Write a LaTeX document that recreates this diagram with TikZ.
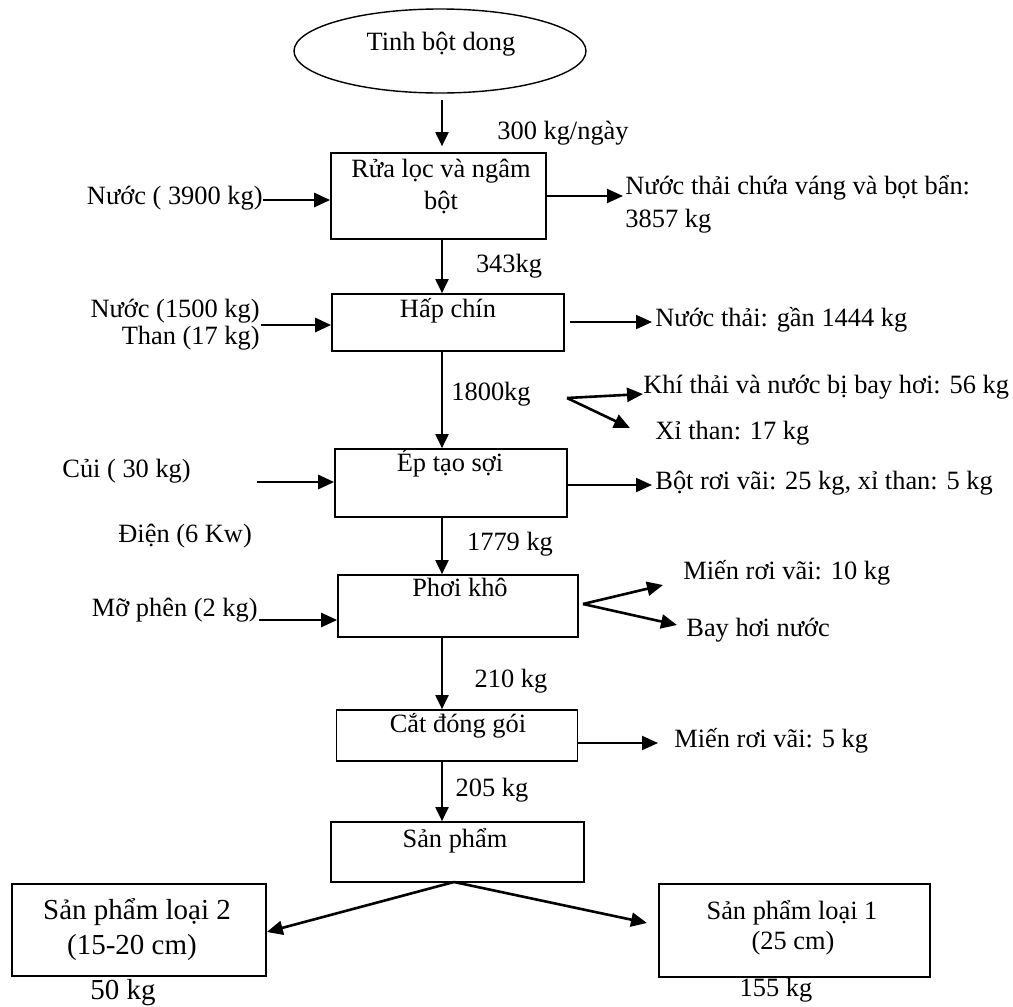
\documentclass[tikz,border=0pt]{standalone}
\usepackage{fontspec}
\setmainfont{Liberation Serif}
\usetikzlibrary{arrows.meta,shapes.geometric,calc}
\begin{document}
\begin{tikzpicture}[x=0.5pt,y=-0.5pt,
  txt/.style={inner sep=0pt, text height=0.7em, text depth=0.22em, font=\fontsize{13.2}{15.8}\selectfont},
  bigtxt/.style={txt, font=\fontsize{14.5}{17.4}\selectfont},
  box/.style={draw, line width=0.85pt, rectangle, inner sep=0pt},
  varrow/.style={line width=1pt, -{Triangle[length=7pt,width=6.5pt]}},
  harrow/.style={line width=1.4pt, -{Triangle[length=8pt,width=7pt]}},
  rarrow/.style={line width=1pt, -{Triangle[length=8pt,width=7pt]}},
  farrow/.style={line width=1.3pt, -{Triangle[length=8pt,width=7pt]}},
]
\useasboundingbox (0,0) rectangle (1013,1007);
\coordinate (sp) at (442,0);

% top ellipse
\node[ellipse, draw, line width=0.7pt, minimum width=146pt, minimum height=42pt, inner sep=0pt] (e) at (440,51) {};
\node[txt] (te) at (441,46) {Tinh bột dong};

% boxes
\node[box, minimum width=107.5pt, minimum height=43pt] (b1) at (438.5,196) {};
\node[box, minimum width=116pt, minimum height=28.5pt] (b2) at (448,322.5) {};
\node[box, minimum width=116pt, minimum height=34pt] (b3) at (451,483) {};
\node[box, minimum width=120pt, minimum height=31pt] (b4) at (458,606) {};
\node[box, minimum width=120.5pt, minimum height=25.5pt] (b5) at (457,735.5) {};
\node[box, minimum width=126.5pt, minimum height=30pt] (b6) at (457.5,852) {};
\node[box, minimum width=127pt, minimum height=46pt] (b7) at (139,930) {};
\node[box, minimum width=135.5pt, minimum height=46.5pt] (b8) at (794.5,930.5) {};

% box texts
\node[txt] (t1a) at (441,173) {Rửa lọc và ngâm};
\node[txt] (t1b) at (441,205) {bột};
\node[txt] (t2) at (448,313) {Hấp chín};
\node[txt] (t3) at (450,467) {Ép tạo sợi};
\node[txt] (t4) at (460,592) {Phơi khô};
\node[txt] (t5) at (458,728) {Cắt đóng gói};
\node[txt] (t6) at (455,843) {Sản phẩm};
\node[bigtxt] (t7a) at (137,915) {Sản phẩm loại 2};
\node[bigtxt] (t7b) at (132,950) {(15-20 cm)};
\node[bigtxt] (t7c) at (123,995) {50 kg};
\node[txt] (t8a) at (792,915) {Sản phẩm loại 1};
\node[txt] (t8b) at (793,945) {(25 cm)};
\node[txt] (t8c) at (776,992) {155 kg};

% flow labels
\node[txt] (q0) at (563,135) {300 kg/ngày};
\node[txt] (q1) at (509,268) {343kg};
\node[txt] (q2) at (491,396) {1800kg};
\node[txt] (q3) at (510,546) {1779 kg};
\node[txt] (q4) at (511,683) {210 kg};
\node[txt] (q5) at (492,792) {205 kg};

% main vertical flow
\draw[varrow, shorten >=3pt, shorten <=3pt] (e.south -| sp) -- (b1.north -| sp);
\draw[varrow] (b1.south -| sp) -- (b2.north -| sp);
\draw[varrow] (b2.south -| sp) -- (b3.north -| sp);
\draw[varrow] (b3.south -| sp) -- (b4.north -| sp);
\draw[varrow] (b4.south -| sp) -- (b5.north -| sp);
\draw[varrow] (b5.south -| sp) -- (b6.north -| sp);

% inputs
\node[txt, anchor=east] (in1) at (263,200) {Nước ( 3900 kg)};
\draw[harrow] (in1.east) -- (in1.east -| b1.west);

\node[txt, anchor=east] (in2a) at (260,313) {Nước (1500 kg)};
\node[txt, anchor=east] (in2b) at (260,340) {Than (17 kg)};
\coordinate (c2) at (261,325);
\draw[harrow] (c2) -- (c2 -| b2.west);

\node[txt, anchor=west] (in3) at (62,473) {Củi ( 30 kg)};
\coordinate (c3) at (257,482);
\draw[harrow] (c3) -- (c3 -| b3.west);
\node[txt, anchor=west] (in3b) at (118,538) {Điện (6 Kw)};

\node[txt, anchor=east] (in4) at (258,612) {Mỡ phên (2 kg)};
\coordinate (c4) at (259,620);
\draw[harrow] (c4) -- (c4 -| b4.west);

% outputs
\node[txt, anchor=west] (o1a) at (625,190) {Nước thải chứa váng và bọt bẩn:};
\node[txt, anchor=west] (o1b) at (625,223) {3857 kg};
\coordinate (d1) at (623,196);
\draw[rarrow] (d1 -| b1.east) -- (d1);

\node[txt, anchor=west] (o2) at (655,322) {Nước thải: gần 1444 kg};
\coordinate (d2) at (652,322);
\draw[rarrow, shorten <=2.5pt] (d2 -| b2.east) -- (d2);

\node[txt, anchor=west] (o3a) at (643,389) {Khí thải và nước bị bay hơi: 56 kg};
\node[txt, anchor=west] (o3b) at (655,435) {Xỉ than: 17 kg};
\coordinate (f1) at (567,398);
\coordinate (f1a) at (643,394);
\coordinate (f1b) at (630,428);
\draw[farrow] (f1) -- (f1a);
\draw[farrow] (f1) -- (f1b);

\node[txt, anchor=west] (o4) at (655,485) {Bột rơi vãi: 25 kg, xỉ than: 5 kg};
\coordinate (d3) at (652,485);
\draw[rarrow] (d3 -| b3.east) -- (d3);

\node[txt, anchor=west] (o5a) at (683,575) {Miến rơi vãi: 10 kg};
\node[txt, anchor=west] (o5b) at (686,632) {Bay hơi nước};
\coordinate (f2) at (583,604);
\coordinate (f2a) at (663,585);
\coordinate (f2b) at (677,625);
\draw[farrow] (f2) -- (f2a);
\draw[farrow] (f2) -- (f2b);

\node[txt, anchor=west] (o6) at (674,743) {Miến rơi vãi: 5 kg};
\coordinate (d5) at (658,743);
\draw[rarrow] (d5 -| b5.east) -- (d5);

% final split
\coordinate (f3) at (454,882);
\coordinate (g8) at (647,923);
\draw[farrow] (f3) -- ([yshift=-1pt]b7.east);
\draw[farrow] (f3) -- (g8);
\end{tikzpicture}
\end{document}
